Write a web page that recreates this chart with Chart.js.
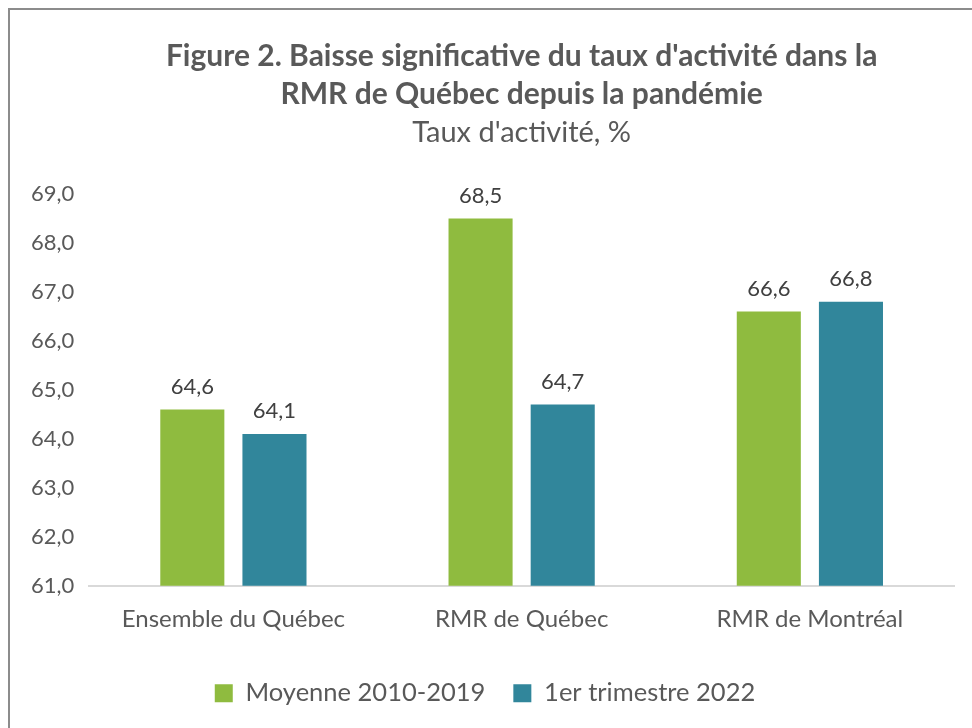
<!DOCTYPE html>
<html>
<head>
<meta charset="utf-8">
<script src="https://cdn.jsdelivr.net/npm/chart.js@4.4.0/dist/chart.umd.min.js"></script>
<style>
  html, body { margin: 0; padding: 0; background: #fff; overflow: hidden; }
  #frame {
    position: absolute; left: 8px; top: 8px; width: 980px; height: 740px;
    border-left: 2px solid #8c8c8c; border-top: 2px solid #8c8c8c;
  }
  #wrap { position: absolute; left: 0; top: 0; width: 972px; height: 728px; }
</style>
</head>
<body>
<div id="frame"></div>
<div id="wrap"><canvas id="chart"></canvas></div>
<script>
const categories = ['Ensemble du Québec', 'RMR de Québec', 'RMR de Montréal'];
const seriesNames = ['Moyenne 2010-2019', '1er trimestre 2022'];
const moyenne = [64.6, 68.5, 66.6];
const trimestre = [64.1, 64.7, 66.8];
const titleLines = ["Figure 2. Baisse significative du taux d'activité dans la", 'RMR de Québec depuis la pandémie'];
const subtitleText = "Taux d'activité, %";

const fontFamily = 'Lato, "Open Sans", sans-serif';
const textColor = '#595959';

function frNumber(v) {
    return v.toFixed(1).replace('.', ',');
}

// labels above each bar
const valueLabels = {
    id: 'valueLabels',
    afterDatasetsDraw(chart) {
        const ctx = chart.ctx;
        ctx.save();
        ctx.font = '22px ' + fontFamily;
        ctx.fillStyle = '#404040';
        ctx.textAlign = 'center';
        ctx.textBaseline = 'bottom';
        chart.data.datasets.forEach(function (ds, i) {
            chart.getDatasetMeta(i).data.forEach(function (bar, j) {
                ctx.fillText(frNumber(ds.data[j]), bar.x, bar.y - 12);
            });
        });
        ctx.restore();
    }
};

new Chart(document.getElementById('chart'), {
    type: 'bar',
    data: {
        labels: categories,
        datasets: [
            { label: seriesNames[0], data: moyenne, backgroundColor: '#8fbb3f' },
            { label: seriesNames[1], data: trimestre, backgroundColor: '#31869b' }
        ]
    },
    options: {
        responsive: true,
        maintainAspectRatio: false,
        animation: false,
        layout: { padding: { left: 16, right: 18, top: 37, bottom: 12 } },
        datasets: {
            bar: { categoryPercentage: 0.57, barPercentage: 0.78 }
        },
        scales: {
            x: {
                grid: { display: false, drawTicks: false },
                border: { display: true, color: '#d9d9d9', width: 2 },
                ticks: { color: textColor, font: { family: fontFamily, size: 24 }, padding: 19 }
            },
            y: {
                min: 61,
                max: 69,
                grid: { display: false, drawTicks: false },
                border: { display: false },
                ticks: {
                    stepSize: 1,
                    color: textColor,
                    padding: 15,
                    font: { family: fontFamily, size: 22 },
                    callback: function (v) { return frNumber(v); }
                }
            }
        },
        plugins: {
            title: {
                display: true,
                fullSize: false,
                text: titleLines,
                color: textColor,
                font: { family: fontFamily, size: 30, weight: 'bold', lineHeight: 1.27 },
                padding: { top: 0, bottom: 2 }
            },
            subtitle: {
                display: true,
                fullSize: false,
                text: subtitleText,
                color: textColor,
                font: { family: fontFamily, size: 29 },
                padding: { top: 0, bottom: 44 }
            },
            legend: {
                position: 'bottom',
                labels: {
                    color: textColor,
                    font: { family: fontFamily, size: 25.5 },
                    boxWidth: 18,
                    boxHeight: 18,
                    padding: 28
                }
            },
            tooltip: { enabled: false }
        }
    },
    plugins: [valueLabels]
});
</script>
</body>
</html>
